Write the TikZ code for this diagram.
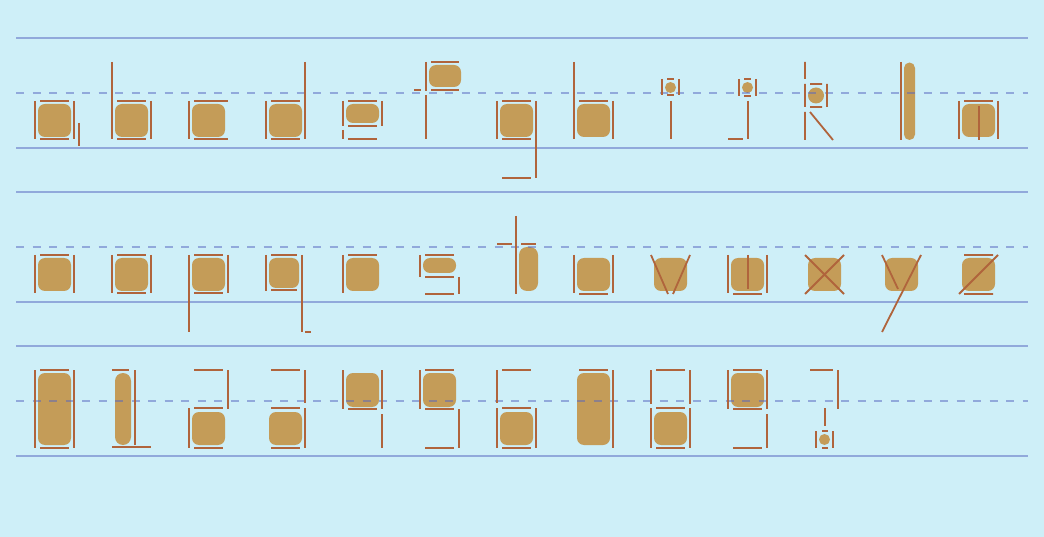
\documentclass[tikz,border=0pt]{standalone}
\definecolor{bgcyan}{RGB}{206,239,248}
\definecolor{guideblue}{RGB}{86,101,192}
\definecolor{glyphtan}{RGB}{196,156,88}
\definecolor{penbrown}{RGB}{176,100,60}
\begin{document}
\begin{tikzpicture}[x=1pt,y=-1pt,
    glyph/.style={fill=glyphtan, rounded corners=7pt},
    pill/.style={fill=glyphtan, rounded corners=#1},
    guide/.style={draw=guideblue, line width=2pt, draw opacity=0.5},
    midline/.style={guide, dash pattern=on 8pt off 8.5pt},
    pen/.style={draw=penbrown, line width=1.8pt}]
  \fill[bgcyan] (0,0) rectangle (1044,537);

  % row 1: a to m
  \begin{scope}
    \fill[glyph] (38,104) rectangle (71,137);
    \fill[glyph] (115,104) rectangle (148,137);
    \fill[glyph] (192,104) rectangle (225,137);
    \fill[glyph] (269,104) rectangle (302,137);
    \fill[glyph] (346,104) rectangle (379,123);
    \fill[glyph] (429,65) rectangle (461,87);
    \fill[glyph] (500,104) rectangle (533,137);
    \fill[glyph] (577,104) rectangle (610,137);
    \fill[glyphtan] (670.5,87.5) circle (5.5);
    \fill[glyphtan] (747.5,87.5) circle (5.5);
    \fill[glyphtan] (816,95.5) circle (8);
    \fill[pill=5.5pt] (904,62.5) rectangle (915,140);
    \fill[glyph] (962,104) rectangle (995,137);

    \draw[guide] (16,38) -- (1028,38) (16,148) -- (1028,148);
    \draw[midline] (16,93) -- (1028,93);

    \draw[pen] (35,101) -- (35,139) (74,101) -- (74,139) (40,101) -- (69,101) (40,139) -- (69,139) (79,123) -- (79,146);
    \draw[pen] (112,62) -- (112,139) (151,101) -- (151,139) (117,101) -- (146,101) (117,139) -- (146,139);
    \draw[pen] (189,101) -- (189,139) (194,101) -- (228,101) (194,139) -- (228,139);
    \draw[pen] (266,101) -- (266,139) (305,62) -- (305,139) (271,101) -- (300,101) (271,139) -- (300,139);
    \draw[pen] (343,101) -- (343,126) (343,130) -- (343,139) (382,101) -- (382,126)
      (348,101) -- (377,101) (348,126) -- (377,126) (348,139) -- (377,139);
    \draw[pen] (426,62) -- (426,91) (426,95) -- (426,139) (431,62) -- (459,62) (431,90) -- (459,90) (414,90) -- (421,90);
    \draw[pen] (497,101) -- (497,139) (536,101) -- (536,178) (502,101) -- (531,101) (502,139) -- (531,139) (502,178) -- (531,178);
    \draw[pen] (574,62) -- (574,139) (613,101) -- (613,139) (579,101) -- (608,101);
    \draw[pen] (662,79) -- (662,95) (679,79) -- (679,95) (667,79) -- (674,79) (667,95) -- (674,95) (671,101) -- (671,139);
    \draw[pen] (739,79) -- (739,96) (756,79) -- (756,96) (744,79) -- (751,79) (744,96) -- (751,96)
      (748,101) -- (748,139) (728,139) -- (743,139);
    \draw[pen] (805,84) -- (805,107) (827,84) -- (827,107) (810,84) -- (822,84) (810,107) -- (822,107)
      (805,62) -- (805,79) (805,112) -- (805,140) (810,112) -- (833,140);
    \draw[pen] (901,62) -- (901,140);
    \draw[pen] (959,101) -- (959,139) (998,101) -- (998,139) (964,101) -- (993,101) (979,106) -- (979,140);
  \end{scope}

  % row 2: n to z
  \begin{scope}[yshift=-154pt]
    \fill[glyph] (38,104) rectangle (71,137);
    \fill[glyph] (115,104) rectangle (148,137);
    \fill[glyph] (192,104) rectangle (225,137);
    \fill[glyph] (269,104) rectangle (299,134);
    \fill[glyph] (346,104) rectangle (379,137);
    \fill[glyph] (423,104) rectangle (456,119);
    \fill[pill=8pt] (519,93) rectangle (538,137);
    \fill[glyph] (577,104) rectangle (610,137);
    \fill[glyph] (654,104) rectangle (687,137);
    \fill[glyph] (731,104) rectangle (764,137);
    \fill[glyph] (808,104) rectangle (841,137);
    \fill[glyph] (885,104) rectangle (918,137);
    \fill[glyph] (962,104) rectangle (995,137);

    \draw[guide] (16,38) -- (1028,38) (16,148) -- (1028,148);
    \draw[midline] (16,93) -- (1028,93);

    \draw[pen] (35,101) -- (35,139) (74,101) -- (74,139) (40,101) -- (69,101);
    \draw[pen] (112,101) -- (112,139) (151,101) -- (151,139) (117,101) -- (146,101) (117,139) -- (146,139);
    \draw[pen] (189,101) -- (189,178) (228,101) -- (228,139) (194,101) -- (223,101) (194,139) -- (223,139);
    \draw[pen] (266,101) -- (266,137) (302,101) -- (302,178) (271,101) -- (297,101) (271,136) -- (297,136) (305,178) -- (311,178);
    \draw[pen] (343,101) -- (343,139) (348,101) -- (377,101);
    \draw[pen] (420,101) -- (420,123) (425,101) -- (454,101) (425,123) -- (454,123) (459,123) -- (459,140) (425,140) -- (454,140);
    \draw[pen] (516,62) -- (516,140) (497,90) -- (512,90) (521,90) -- (536,90);
    \draw[pen] (574,101) -- (574,139) (613,101) -- (613,139) (579,140) -- (608,140);
    \draw[pen] (651,101) -- (668,140) (690,101) -- (673,140);
    \draw[pen] (728,101) -- (728,139) (767,101) -- (767,139) (748,101) -- (748,135) (733,140) -- (762,140);
    \draw[pen] (805,101) -- (844,140) (844,101) -- (805,140);
    \draw[pen] (882,101) -- (898,135) (921,101) -- (882,178);
    \draw[pen] (964,101) -- (993,101) (964,140) -- (993,140) (998,101) -- (959,140);
  \end{scope}

  % row 3: digits and question mark
  \begin{scope}[yshift=-308pt]
    \fill[glyph] (38,65) rectangle (71,137);
    \fill[pill=8pt] (115,65) rectangle (131,137);
    \fill[glyph] (192,104) rectangle (225,137);
    \fill[glyph] (269,104) rectangle (302,137);
    \fill[glyph] (346,65) rectangle (379,99);
    \fill[glyph] (423,65) rectangle (456,99);
    \fill[glyph] (500,104) rectangle (533,137);
    \fill[glyph] (577,65) rectangle (610,137);
    \fill[glyph] (654,104) rectangle (687,137);
    \fill[glyph] (731,65) rectangle (764,99);
    \fill[glyphtan] (824.5,131.5) circle (5.5);

    \draw[guide] (16,38) -- (1028,38) (16,148) -- (1028,148);
    \draw[midline] (16,93) -- (1028,93);

    \draw[pen] (35,62) -- (35,140) (74,62) -- (74,140) (40,62) -- (69,62) (40,140) -- (69,140);
    \draw[pen] (112,62) -- (129,62) (135,62) -- (135,137) (112,139) -- (151,139);
    \draw[pen] (189,100) -- (189,140) (194,62) -- (223,62) (228,62) -- (228,101) (194,100) -- (223,100) (194,140) -- (223,140);
    \draw[pen] (271,62) -- (300,62) (305,62) -- (305,95) (305,100) -- (305,140) (271,100) -- (300,100) (271,140) -- (300,140);
    \draw[pen] (343,62) -- (343,101) (382,62) -- (382,101) (382,106) -- (382,140) (348,101) -- (377,101);
    \draw[pen] (420,62) -- (420,101) (425,62) -- (454,62) (425,101) -- (454,101) (459,101) -- (459,140) (425,140) -- (454,140);
    \draw[pen] (497,62) -- (497,95) (497,100) -- (497,140) (502,62) -- (531,62) (502,100) -- (531,100)
      (536,100) -- (536,140) (502,140) -- (531,140);
    \draw[pen] (579,62) -- (608,62) (613,62) -- (613,140);
    \draw[pen] (651,62) -- (651,96) (651,100) -- (651,140) (690,62) -- (690,96) (690,100) -- (690,140)
      (656,62) -- (685,62) (656,100) -- (685,100) (656,140) -- (685,140);
    \draw[pen] (728,62) -- (728,101) (767,62) -- (767,101) (767,106) -- (767,140)
      (733,62) -- (762,62) (733,101) -- (762,101) (733,140) -- (762,140);
    \draw[pen] (810,62) -- (833,62) (838,62) -- (838,101) (825,100) -- (825,118)
      (816,123) -- (816,140) (833,123) -- (833,140) (822,123) -- (828,123) (822,140) -- (828,140);
  \end{scope}
\end{tikzpicture}
\end{document}
